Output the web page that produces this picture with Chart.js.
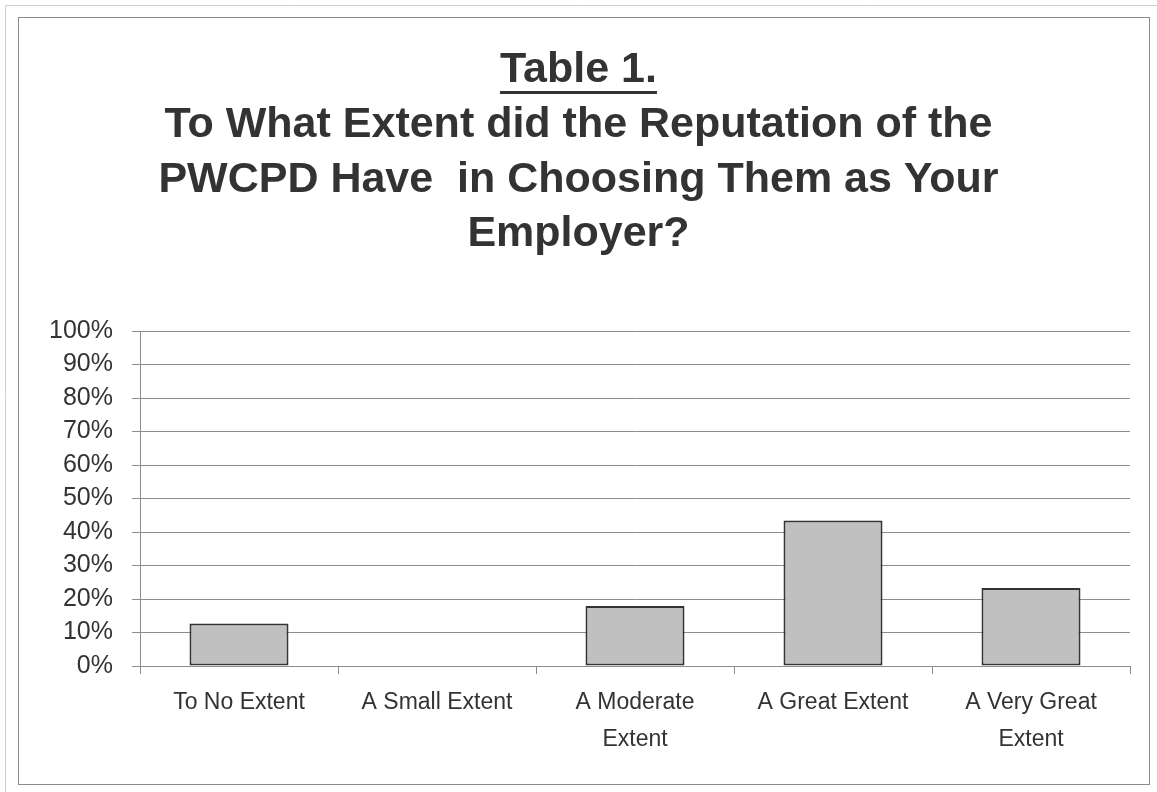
<!DOCTYPE html>
<html>
<head>
<meta charset="utf-8">
<script src="https://cdn.jsdelivr.net/npm/chart.js@4.4.0/dist/chart.umd.min.js"></script>
<style>
  body { margin: 0; background: #fff; }
  canvas { display: block; }
</style>
</head>
<body>
<canvas id="reputation-chart" width="1157" height="792"></canvas>
<script>
// DATA
const categories = ["To No Extent", "A Small Extent", ["A Moderate", "Extent"], "A Great Extent", ["A Very Great", "Extent"]];
const percentValues = [12.7, 0, 17.9, 43.4, 23.3];
const tickStep = 10;
const tickMax = 100;
const titleLine = "Table 1.";
const subtitleLines = [
  "To What Extent did the Reputation of the",
  "PWCPD Have  in Choosing Them as Your",
  "Employer?"
];

const textColor = "#333333";
const lineColor = "#8c8c8c";

// frame + underline of "Table 1."
const framePlugin = {
  id: "frame",
  beforeDraw(chart) {
    const c = chart.ctx;
    c.save();
    c.fillStyle = "#ffffff";
    c.fillRect(0, 0, chart.width, chart.height);
    c.strokeStyle = "#cfcfcf";
    c.lineWidth = 1;
    c.beginPath();
    c.moveTo(5.5, chart.height);
    c.lineTo(5.5, 5.5);
    c.lineTo(chart.width, 5.5);
    c.stroke();
    c.strokeStyle = "#8a8a8a";
    c.strokeRect(18.5, 17.5, 1131, 767);
    c.restore();
  },
  afterDraw(chart) {
    const c = chart.ctx;
    const tb = chart.titleBlock;
    c.save();
    c.font = "bold 43px 'Liberation Sans', Arial, sans-serif";
    const w = c.measureText(titleLine).width;
    const cx = (tb.left + tb.right) / 2;
    c.strokeStyle = textColor;
    c.lineWidth = 3;
    c.beginPath();
    c.moveTo(cx - w / 2, 92.5);
    c.lineTo(cx + w / 2, 92.5);
    c.stroke();
    c.restore();
  }
};

const ctx = document.getElementById("reputation-chart").getContext("2d");

const config = {
  type: "bar",
  data: {
    labels: categories,
    datasets: [
      {
        data: percentValues,
        backgroundColor: "#c0c0c0",
        borderColor: "#333333",
        borderWidth: 2,
        borderSkipped: false,
        barPercentage: 0.5,
        categoryPercentage: 1.0
      }
    ]
  },
  options: {
    responsive: false,
    animation: false,
    layout: { padding: { left: 27, right: 27, top: 0, bottom: 0 } },
    plugins: {
      legend: { display: false },
      tooltip: { enabled: false },
      title: {
        display: true,
        text: titleLine,
        color: textColor,
        font: { family: "'Liberation Sans', Arial, sans-serif", size: 43, weight: "bold", lineHeight: 1.2 },
        padding: { top: 44.6, bottom: 0 }
      },
      subtitle: {
        display: true,
        text: subtitleLines,
        color: textColor,
        font: { family: "'Liberation Sans', Arial, sans-serif", size: 43, weight: "bold", lineHeight: "54.5px" },
        padding: { top: 1.7, bottom: 69.6 }
      }
    },
    scales: {
      x: {
        grid: { display: true, drawOnChartArea: false, drawTicks: true, tickLength: 8, color: lineColor, offset: true },
        border: { color: lineColor },
        ticks: {
          color: textColor,
          padding: 11,
          maxRotation: 0,
          autoSkip: false,
          font: { family: "'Liberation Sans', Arial, sans-serif", size: 23, lineHeight: 1.57 }
        },
        afterFit(scale) { scale.height = 126; }
      },
      y: {
        min: 0,
        max: tickMax,
        grid: { color: lineColor, tickLength: 8 },
        border: { color: lineColor },
        ticks: {
          stepSize: tickStep,
          color: textColor,
          padding: 19,
          font: { family: "'Liberation Sans', Arial, sans-serif", size: 25 },
          callback: (v) => v + "%"
        },
        afterFit(scale) { scale.width = 113; }
      }
    }
  },
  plugins: [framePlugin]
};

const reputationChart = new Chart(ctx, config);
</script>
</body>
</html>
